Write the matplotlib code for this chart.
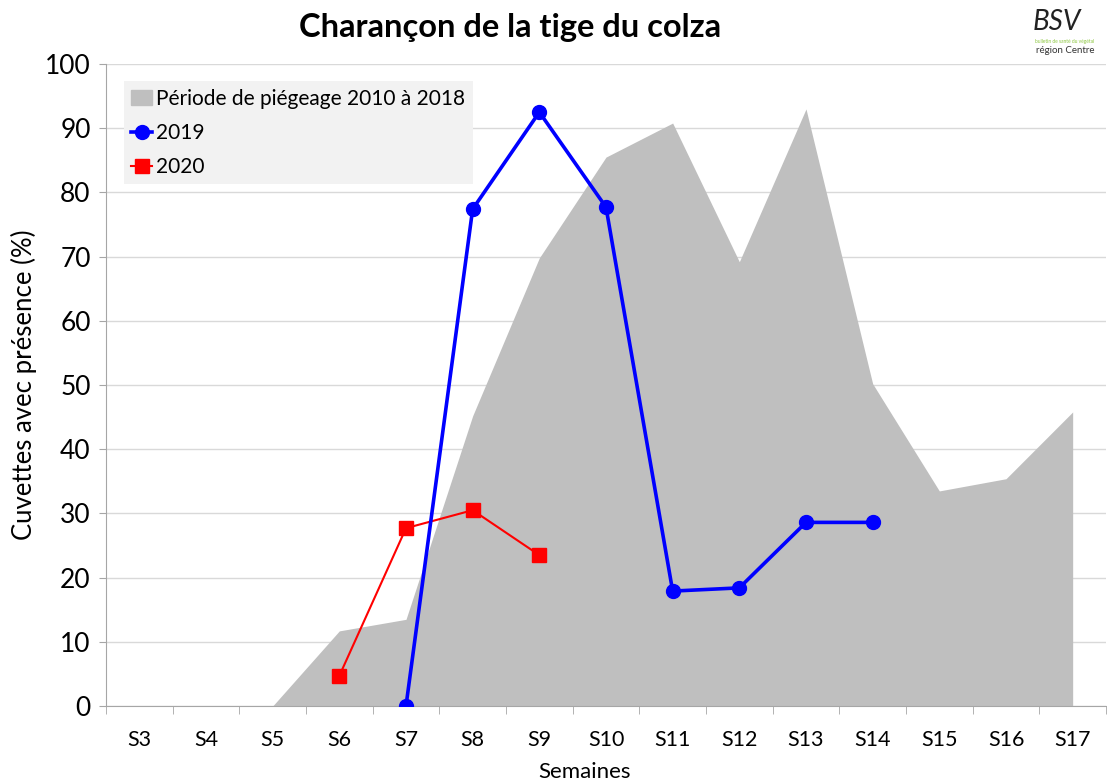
import numpy as np
import matplotlib.pyplot as plt
from matplotlib.patches import Patch
from matplotlib.lines import Line2D

semaines = ["S3", "S4", "S5", "S6", "S7", "S8", "S9", "S10", "S11", "S12", "S13", "S14", "S15", "S16", "S17"]
periode = [0, 0, 0, 11.7, 13.5, 45.2, 69.8, 85.5, 90.8, 69.2, 93.0, 50.2, 33.5, 35.4, 45.8]
s2019 = [None, None, None, None, 0, 77.4, 92.5, 77.7, 17.9, 18.4, 28.6, 28.6, None, None, None]
s2020 = [None, None, None, 4.7, 27.7, 30.5, 23.5, None, None, None, None, None, None, None, None]

plt.rcParams['font.family'] = ['Lato', 'DejaVu Sans']

fig = plt.figure(figsize=(11.07, 7.82), dpi=100)
ax = fig.add_axes([106/1107, 1-706/782, 1000/1107, 642/782])

x = np.arange(len(semaines))
y19 = np.array([np.nan if v is None else v for v in s2019], dtype=float)
y20 = np.array([np.nan if v is None else v for v in s2020], dtype=float)

ax.fill_between(x, periode, 0, color="#bfbfbf", lw=0, zorder=2)
ax.plot(x, y19, color="#0000ff", lw=2.6, marker="o", ms=10, zorder=4)
ax.plot(x, y20, color="#ff0000", lw=1.5, marker="s", ms=10, zorder=3)

ax.set_xlim(-0.5, len(semaines) - 0.5)
ax.set_ylim(0, 100)
ax.set_yticks(range(0, 101, 10))
ax.tick_params(axis="y", labelsize=19, length=5, color="#a6a6a6", pad=6)
ax.set_xticks(x)
ax.set_xticklabels(semaines)
ax.set_xticks(np.arange(-0.5, len(semaines), 1), minor=True)
ax.tick_params(axis="x", which="major", length=0, labelsize=15.5, pad=17)
ax.tick_params(axis="x", which="minor", length=6, color="#a6a6a6")
ax.grid(axis="y", color="#d9d9d9", lw=1, zorder=0)
ax.set_axisbelow(True)
for s in ["top", "right"]:
    ax.spines[s].set_visible(False)
for s in ["left", "bottom"]:
    ax.spines[s].set_color("#a6a6a6")

ax.set_ylabel("Cuvettes avec présence (%)", fontsize=18.5, labelpad=6)
fig.text(585/1107, 1-772/782, "Semaines", ha="center", va="center", fontsize=16)
fig.text(510/1107, 1-28/782, "Charançon de la tige du colza", ha="center", va="center",
         fontsize=23.5, fontweight="bold")

handles = [Patch(color="#bfbfbf"),
           Line2D([], [], color="#0000ff", lw=2.6, marker="o", ms=10),
           Line2D([], [], color="#ff0000", lw=1.5, marker="s", ms=10)]
leg = ax.legend(handles, ["Période de piégeage 2010 à 2018", "2019", "2020"],
                loc="upper left", bbox_to_anchor=(0.018, 0.973), fontsize=15,
                frameon=True, fancybox=False, handlelength=1.0, handletextpad=0.2,
                borderpad=0.35, labelspacing=0.68, borderaxespad=0)
leg.get_frame().set_facecolor("#f2f2f2")
leg.get_frame().set_edgecolor("none")
leg.get_frame().set_alpha(1)
leg.set_zorder(5)

# logo
fig.text(0.955, 0.972, "BSV", ha="center", va="center", fontsize=20, style="italic", color="#222222")
fig.text(0.962, 0.947, "bulletin de santé du végétal", ha="center", va="center", fontsize=3.5, color="#8cc63f")
fig.text(0.962, 0.935, "région Centre", ha="center", va="center", fontsize=7, color="#333333")

fig.savefig("out.png", dpi=100)
